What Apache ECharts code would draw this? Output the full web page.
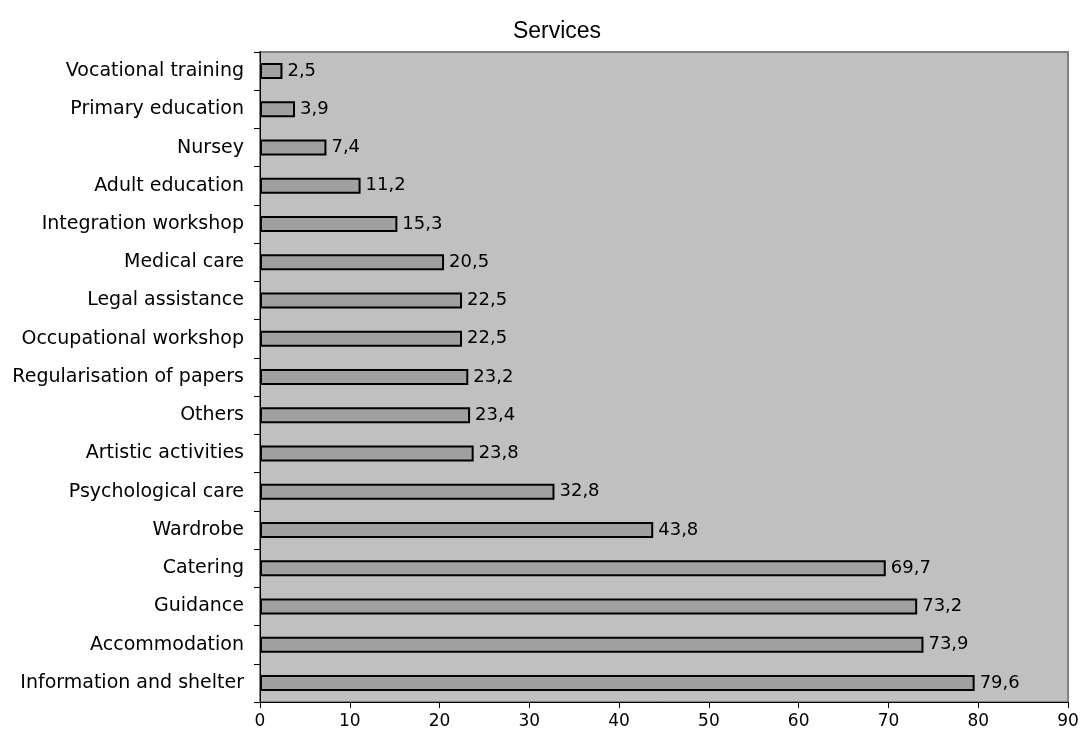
<!DOCTYPE html>
<html>
<head>
<meta charset="utf-8">
<script src="https://cdn.jsdelivr.net/npm/echarts@6/dist/echarts.min.js"></script>
<style>
  html, body { margin: 0; padding: 0; background: #ffffff; }
  #chart { width: 1082px; height: 742px; }
</style>
</head>
<body>
<div id="chart"></div>
<script>
// Services offered, share in percent (top to bottom)
const categories = [
  'Vocational training',
  'Primary education',
  'Nursey',
  'Adult education',
  'Integration workshop',
  'Medical care',
  'Legal assistance',
  'Occupational workshop',
  'Regularisation of papers',
  'Others',
  'Artistic activities',
  'Psychological care',
  'Wardrobe',
  'Catering',
  'Guidance',
  'Accommodation',
  'Information and shelter'
];
const values = [2.5, 3.9, 7.4, 11.2, 15.3, 20.5, 22.5, 22.5, 23.2, 23.4, 23.8, 32.8, 43.8, 69.7, 73.2, 73.9, 79.6];
const xTicks = { min: 0, max: 90, interval: 10 };

const labelFont = '"DejaVu Sans", Verdana, sans-serif';
const titleFont = 'Arial, Helvetica, sans-serif';
const chart = echarts.init(document.getElementById('chart'));

chart.setOption({
  animation: false,
  backgroundColor: '#ffffff',
  title: {
    text: 'Services',
    left: 552,
    textAlign: 'center',
    top: 15,
    textStyle: { fontFamily: titleFont, fontSize: 23, fontWeight: 'normal', color: '#000' }
  },
  grid: {
    left: 260, right: 14, top: 52, bottom: 40,
    show: true,
    backgroundColor: '#c0c0c0',
    borderColor: '#808080',
    borderWidth: 2
  },
  xAxis: {
    type: 'value',
    min: xTicks.min, max: xTicks.max, interval: xTicks.interval,
    splitLine: { show: false },
    axisLine: { show: true, lineStyle: { color: '#000', width: 1 } },
    axisTick: { show: true, length: 6, lineStyle: { color: '#000' } },
    axisLabel: { fontFamily: labelFont, fontSize: 17, color: '#000', margin: 11 }
  },
  yAxis: {
    type: 'category',
    data: categories,
    inverse: true,
    axisLine: { show: true, lineStyle: { color: '#000', width: 1 } },
    axisTick: { show: true, length: 6, lineStyle: { color: '#000' } },
    axisLabel: { fontFamily: labelFont, fontSize: 19, color: '#000', margin: 16 }
  },
  series: [{
    type: 'bar',
    data: values,
    barWidth: 16,
    itemStyle: { color: '#a0a0a0', borderColor: '#000', borderWidth: 2 },
    label: {
      show: true,
      position: 'right',
      distance: 5,
      fontFamily: labelFont, fontSize: 18, color: '#000',
      formatter: p => String(p.value).replace('.', ',')
    }
  }]
});
</script>
</body>
</html>
